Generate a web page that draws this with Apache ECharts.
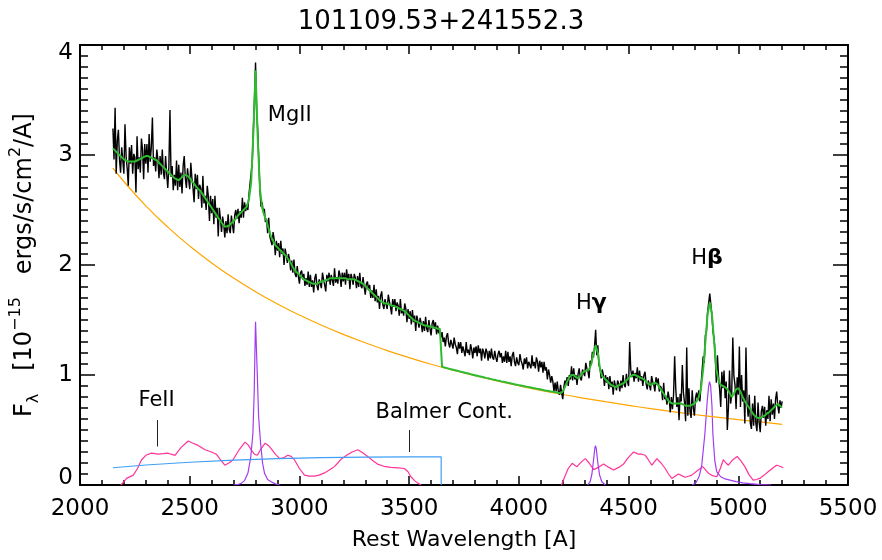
<!DOCTYPE html>
<html>
<head>
<meta charset="utf-8">
<script src="https://cdn.jsdelivr.net/npm/echarts@6/dist/echarts.min.js"></script>
<style>
  html, body { margin: 0; padding: 0; background: #fff; }
  #chart { width: 882px; height: 560px; }
</style>
</head>
<body>
<div id="chart"></div>
<script>
// Object name and axis ticks
const objectName = '101109.53+241552.3';
const xTicks = [2000, 2500, 3000, 3500, 4000, 4500, 5000, 5500];
const yTicks = [0, 1, 2, 3, 4];

// Observed spectrum: fluxes at 2150, 2155, ... 5200 A (one row per 50 A)
const specStart = 2150;
const specStep = 5;
const observedFlux = [
  3.24, 2.96, 3.43, 2.83, 3.13, 3.23, 2.96, 2.84, 3.07, 2.95,
  2.83, 3.28, 2.99, 2.88, 2.72, 3.07, 2.92, 3.09, 2.83, 3.01,
  2.98, 2.66, 3.17, 2.87, 2.98, 2.84, 3.15, 3.05, 2.78, 3.10,
  2.92, 3.10, 2.84, 3.19, 2.94, 3.07, 3.34, 2.90, 2.98, 2.85,
  3.05, 2.96, 2.79, 2.99, 2.82, 3.05, 2.84, 2.78, 2.99, 2.83,
  2.70, 2.89, 3.41, 2.80, 2.90, 2.68, 2.82, 2.72, 2.95, 2.68,
  2.91, 2.71, 2.84, 2.65, 2.90, 2.99, 2.79, 2.70, 2.88, 2.78,
  2.69, 2.93, 2.79, 2.70, 2.57, 2.83, 2.69, 2.82, 2.60, 2.73,
  2.70, 2.52, 2.81, 2.56, 2.63, 2.50, 2.72, 2.62, 2.40, 2.63,
  2.47, 2.60, 2.37, 2.63, 2.43, 2.52, 2.26, 2.52, 2.42, 2.30,
  2.44, 2.37, 2.25, 2.40, 2.29, 2.46, 2.32, 2.29, 2.45, 2.36,
  2.29, 2.45, 2.50, 2.42, 2.51, 2.38, 2.49, 2.43, 2.61, 2.43,
  2.57, 2.49, 2.55, 2.50, 2.64, 2.74, 2.74, 2.93, 3.23, 3.49,
  3.84, 3.41, 3.22, 2.94, 2.68, 2.53, 2.57, 2.48, 2.51, 2.39,
  2.42, 2.29, 2.43, 2.26, 2.27, 2.18, 2.30, 2.23, 2.09, 2.22,
  2.13, 2.20, 2.07, 2.22, 2.10, 2.15, 2.00, 2.15, 2.09, 2.02,
  2.10, 2.05, 1.95, 2.04, 1.93, 2.05, 1.92, 1.89, 1.99, 1.90,
  1.83, 1.93, 1.95, 1.87, 1.92, 1.81, 1.88, 1.82, 1.94, 1.80,
  1.91, 1.80, 1.86, 1.75, 1.88, 1.92, 1.81, 1.77, 1.87, 1.83,
  1.79, 1.93, 1.87, 1.82, 1.76, 1.91, 1.85, 1.93, 1.82, 1.91,
  1.90, 1.81, 1.97, 1.84, 1.89, 1.83, 1.95, 1.91, 1.80, 1.93,
  1.85, 1.93, 1.82, 1.96, 1.86, 1.92, 1.78, 1.92, 1.88, 1.82,
  1.92, 1.88, 1.79, 1.90, 1.80, 1.93, 1.81, 1.79, 1.89, 1.80,
  1.73, 1.83, 1.85, 1.77, 1.82, 1.70, 1.77, 1.70, 1.82, 1.67,
  1.78, 1.66, 1.72, 1.60, 1.72, 1.76, 1.64, 1.60, 1.69, 1.64,
  1.60, 1.73, 1.67, 1.62, 1.55, 1.69, 1.62, 1.69, 1.58, 1.66,
  1.63, 1.54, 1.69, 1.56, 1.60, 1.54, 1.65, 1.60, 1.48, 1.60,
  1.51, 1.58, 1.46, 1.59, 1.48, 1.54, 1.40, 1.54, 1.49, 1.43,
  1.52, 1.47, 1.39, 1.49, 1.40, 1.53, 1.42, 1.39, 1.50, 1.42,
  1.36, 1.47, 1.50, 1.42, 1.48, 1.37, 1.45, 1.38, 1.41, 1.34,
  1.39, 1.30, 1.34, 1.26, 1.35, 1.38, 1.29, 1.25, 1.32, 1.28,
  1.24, 1.34, 1.28, 1.25, 1.19, 1.30, 1.24, 1.30, 1.20, 1.26,
  1.25, 1.17, 1.30, 1.20, 1.23, 1.18, 1.28, 1.23, 1.15, 1.25,
  1.20, 1.26, 1.17, 1.27, 1.20, 1.24, 1.13, 1.24, 1.21, 1.15,
  1.24, 1.21, 1.13, 1.22, 1.15, 1.24, 1.16, 1.14, 1.22, 1.16,
  1.12, 1.19, 1.22, 1.16, 1.20, 1.11, 1.17, 1.12, 1.22, 1.11,
  1.21, 1.12, 1.17, 1.08, 1.18, 1.21, 1.12, 1.08, 1.16, 1.11,
  1.09, 1.19, 1.13, 1.10, 1.05, 1.15, 1.10, 1.16, 1.06, 1.12,
  1.13, 1.06, 1.18, 1.08, 1.12, 1.06, 1.16, 1.12, 1.03, 1.13,
  1.07, 1.12, 1.02, 1.12, 1.04, 1.07, 0.96, 1.05, 1.00, 0.93,
  0.99, 0.94, 0.85, 0.93, 0.85, 0.94, 0.85, 0.82, 0.91, 0.84,
  0.78, 0.89, 0.95, 0.91, 0.98, 0.90, 1.00, 0.96, 1.08, 0.95,
  1.06, 0.96, 1.00, 0.91, 1.01, 1.06, 0.97, 0.95, 1.05, 1.02,
  0.99, 1.11, 1.06, 1.03, 0.97, 1.13, 1.09, 1.21, 1.16, 1.26,
  1.41, 1.18, 1.27, 1.09, 1.06, 0.97, 1.05, 1.00, 0.90, 1.00,
  0.93, 0.98, 0.87, 0.99, 0.89, 0.94, 0.82, 0.95, 0.90, 0.86,
  0.95, 0.92, 0.85, 0.95, 0.88, 1.00, 0.91, 0.89, 1.01, 0.94,
  0.90, 1.30, 1.05, 0.98, 1.04, 0.94, 1.02, 0.97, 1.07, 0.94,
  1.04, 0.95, 0.99, 0.90, 1.00, 1.03, 0.92, 0.87, 0.95, 0.91,
  0.86, 0.99, 0.94, 0.91, 0.85, 0.98, 0.91, 0.97, 0.85, 0.90,
  0.88, 0.77, 0.93, 0.78, 0.81, 0.73, 0.85, 0.79, 0.66, 0.80,
  0.69, 0.82, 1.17, 0.88, 0.71, 0.80, 0.59, 0.83, 0.76, 1.09,
  0.84, 0.75, 0.58, 1.25, 0.63, 0.88, 0.67, 0.61, 0.86, 0.70,
  0.63, 0.79, 0.84, 0.77, 0.86, 0.76, 0.90, 0.91, 1.17, 1.11,
  1.36, 1.40, 1.57, 1.56, 1.74, 1.64, 1.54, 1.39, 1.33, 1.17,
  0.93, 1.18, 0.99, 0.87, 0.71, 1.03, 0.88, 1.04, 0.79, 0.94,
  0.50, 0.70, 1.04, 0.74, 0.82, 1.34, 0.99, 0.91, 0.69, 0.98,
  0.82, 1.26, 0.71, 1.00, 0.76, 0.86, 0.56, 1.25, 0.75, 0.62,
  0.82, 0.56, 0.51, 0.74, 0.54, 0.81, 0.56, 0.49, 0.75, 0.57,
  0.48, 0.67, 0.72, 0.61, 0.71, 0.54, 0.68, 0.60, 0.81, 0.58,
  0.78, 0.64, 0.74, 0.60, 0.78, 0.85, 0.72, 0.65, 0.77, 0.70,
  0.76
];

// Total model fit at 2150, 2160, ... 5200 A
const modelStart = 2150;
const modelStep = 10;
const modelFlux = [
  3.06, 3.04, 3.02, 3.00, 2.98, 2.96, 2.95, 2.94, 2.94, 2.94,
  2.94, 2.95, 2.96, 2.97, 2.98, 2.99, 2.99, 2.98, 2.97, 2.96,
  2.95, 2.93, 2.91, 2.89, 2.87, 2.85, 2.83, 2.81, 2.79, 2.78,
  2.77, 2.79, 2.81, 2.82, 2.81, 2.79, 2.76, 2.74, 2.71, 2.69,
  2.67, 2.64, 2.61, 2.58, 2.55, 2.52, 2.49, 2.46, 2.43, 2.40,
  2.37, 2.35, 2.35, 2.36, 2.38, 2.40, 2.42, 2.45, 2.47, 2.49,
  2.51, 2.53, 2.60, 2.75, 3.20, 3.77, 3.15, 2.70, 2.52, 2.45,
  2.40, 2.33, 2.26, 2.22, 2.18, 2.16, 2.14, 2.12, 2.10, 2.08,
  2.05, 2.02, 1.98, 1.95, 1.93, 1.91, 1.89, 1.87, 1.86, 1.85,
  1.84, 1.83, 1.83, 1.83, 1.84, 1.85, 1.85, 1.86, 1.87, 1.88,
  1.88, 1.88, 1.88, 1.88, 1.88, 1.88, 1.88, 1.87, 1.87, 1.87,
  1.87, 1.86, 1.85, 1.84, 1.83, 1.81, 1.79, 1.77, 1.75, 1.73,
  1.71, 1.69, 1.67, 1.66, 1.65, 1.65, 1.64, 1.63, 1.63, 1.62,
  1.61, 1.60, 1.59, 1.58, 1.56, 1.54, 1.52, 1.50, 1.49, 1.48,
  1.47, 1.46, 1.45, 1.45, 1.44, 1.44, 1.43, 1.43, 1.42, 1.42,
  1.075, 1.069, 1.063, 1.058, 1.053, 1.048, 1.043, 1.038, 1.033, 1.028,
  1.023, 1.018, 1.013, 1.008, 1.003, 0.998, 0.993, 0.988, 0.984, 0.979,
  0.974, 0.970, 0.965, 0.960, 0.956, 0.951, 0.947, 0.942, 0.938, 0.934,
  0.929, 0.925, 0.921, 0.916, 0.912, 0.908, 0.904, 0.900, 0.896, 0.892,
  0.888, 0.884, 0.880, 0.876, 0.872, 0.868, 0.864, 0.860, 0.857, 0.853,
  0.849, 0.846, 0.842, 0.838, 0.835, 0.85, 0.89, 0.94, 0.98, 1.00,
  1.00, 0.98, 0.97, 0.99, 1.02, 1.035, 1.04, 1.05, 1.10, 1.20,
  1.27, 1.20, 1.05, 0.99, 0.97, 0.95, 0.93, 0.91, 0.90, 0.89,
  0.90, 0.91, 0.92, 0.93, 0.95, 0.97, 0.99, 1.00, 1.00, 0.99,
  0.98, 0.97, 0.96, 0.94, 0.92, 0.91, 0.92, 0.93, 0.92, 0.89,
  0.86, 0.83, 0.80, 0.77, 0.75, 0.74, 0.74, 0.74, 0.74, 0.74,
  0.73, 0.72, 0.72, 0.72, 0.73, 0.74, 0.76, 0.80, 0.88, 1.05,
  1.30, 1.55, 1.66, 1.55, 1.30, 1.05, 0.95, 0.91, 0.90, 0.89,
  0.87, 0.84, 0.80, 0.83, 0.87, 0.88, 0.85, 0.80, 0.76, 0.73,
  0.70, 0.67, 0.64, 0.62, 0.61, 0.61, 0.62, 0.63, 0.65, 0.66,
  0.68, 0.70, 0.72, 0.735, 0.72, 0.705
];

// Power-law continuum [wavelength, flux]
const continuum = [
  [2150, 2.880], [2200, 2.759], [2300, 2.538], [2400, 2.344], [2500, 2.172],
  [2600, 2.019], [2700, 1.881], [2800, 1.757], [2900, 1.646], [3000, 1.545],
  [3100, 1.453], [3200, 1.369], [3300, 1.293], [3400, 1.222], [3500, 1.158],
  [3600, 1.098], [3700, 1.043], [3800, 0.993], [3900, 0.946], [4000, 0.902],
  [4100, 0.861], [4200, 0.823], [4300, 0.788], [4400, 0.755], [4500, 0.724],
  [4600, 0.694], [4700, 0.667], [4800, 0.641], [4900, 0.617], [5000, 0.594],
  [5100, 0.573], [5200, 0.552]
];

// Balmer continuum [wavelength, flux]
const balmerCont = [
  [2150, 0.157], [2300, 0.182], [2500, 0.207], [2700, 0.226], [2900, 0.240],
  [3100, 0.249], [3300, 0.254], [3500, 0.256], [3646, 0.257], [3646, 0.0]
];

// FeII template, UV and optical parts [wavelength, flux]
const feUV = [
  [2186, 0.0], [2200, 0.03], [2212, 0.06], [2243, 0.09], [2262, 0.15], [2280, 0.227],
  [2300, 0.27], [2326, 0.29], [2355, 0.28], [2380, 0.285], [2400, 0.29], [2415, 0.28],
  [2433, 0.27], [2460, 0.34], [2493, 0.40], [2515, 0.38], [2538, 0.36], [2570, 0.32],
  [2599, 0.30], [2621, 0.28], [2640, 0.23], [2660, 0.18], [2678, 0.20], [2697, 0.227],
  [2725, 0.32], [2752, 0.39], [2768, 0.36], [2780, 0.32], [2795, 0.28], [2808, 0.27],
  [2825, 0.33], [2844, 0.38], [2858, 0.36], [2871, 0.33], [2890, 0.28], [2910, 0.24],
  [2930, 0.25], [2947, 0.27], [2962, 0.26], [2977, 0.23], [3000, 0.15], [3023, 0.09],
  [3045, 0.08], [3068, 0.08], [3090, 0.09], [3114, 0.11], [3140, 0.14], [3159, 0.167],
  [3175, 0.20], [3190, 0.235], [3215, 0.27], [3240, 0.30], [3266, 0.32], [3290, 0.29],
  [3311, 0.26], [3335, 0.22], [3356, 0.19], [3385, 0.17], [3417, 0.16], [3450, 0.155],
  [3478, 0.15], [3495, 0.12], [3508, 0.075], [3525, 0.04], [3541, 0.015], [3555, 0.0]
];
const feOpt = [
  [4194, 0.0], [4210, 0.08], [4225, 0.15], [4243, 0.197], [4255, 0.18], [4265, 0.167],
  [4285, 0.21], [4303, 0.24], [4320, 0.20], [4341, 0.14], [4362, 0.16], [4386, 0.19],
  [4410, 0.16], [4432, 0.136], [4455, 0.16], [4477, 0.19], [4495, 0.24], [4508, 0.27],
  [4523, 0.30], [4535, 0.29], [4545, 0.28], [4560, 0.28], [4576, 0.27], [4590, 0.23],
  [4606, 0.18], [4618, 0.21], [4629, 0.24], [4648, 0.20], [4667, 0.15], [4682, 0.10],
  [4697, 0.06], [4712, 0.08], [4727, 0.10], [4742, 0.085], [4758, 0.07], [4773, 0.08],
  [4788, 0.09], [4813, 0.13], [4838, 0.167], [4850, 0.14], [4864, 0.106], [4883, 0.085],
  [4902, 0.075], [4918, 0.15], [4932, 0.23], [4944, 0.20], [4955, 0.18], [4975, 0.23],
  [4995, 0.26], [5012, 0.22], [5030, 0.167], [5050, 0.09], [5068, 0.045], [5083, 0.05],
  [5098, 0.06], [5118, 0.09], [5136, 0.12], [5155, 0.15], [5174, 0.18], [5190, 0.17],
  [5205, 0.157]
];

// Broad emission line components [wavelength, flux]
const lineMgII = [
  [2700, 0.0], [2720, 0.005], [2735, 0.015], [2750, 0.04], [2765, 0.106], [2778, 0.25],
  [2788, 0.47], [2794, 0.85], [2798, 1.3], [2800, 1.485], [2803, 1.3], [2808, 1.0],
  [2814, 0.62], [2823, 0.38], [2832, 0.20], [2841, 0.106], [2855, 0.05], [2871, 0.03],
  [2890, 0.01], [2910, 0.0]
];
const lineHg = [
  [4313, 0.0], [4325, 0.03], [4333, 0.10], [4340, 0.22], [4346, 0.33], [4349, 0.357],
  [4353, 0.33], [4360, 0.20], [4368, 0.09], [4378, 0.03], [4394, 0.0]
];
const lineHb = [
  [4790, 0.0], [4807, 0.02], [4822, 0.08], [4833, 0.17], [4848, 0.47], [4858, 0.75],
  [4865, 0.90], [4869, 0.94], [4874, 0.90], [4880, 0.72], [4884, 0.47], [4893, 0.22],
  [4902, 0.12], [4920, 0.075], [4940, 0.055], [4962, 0.045], [4990, 0.03], [5020, 0.02],
  [5053, 0.012], [5100, 0.004], [5150, 0.0]
];

// Component labels [wavelength, flux, text]
const labels = [
  [2956, 3.36, 'MgII'],
  [4330, 1.65, 'H{g|γ}'],
  [4857, 2.06, 'H{g|β}'],
  [2349, 0.77, 'FeII'],
  [3660, 0.66, 'Balmer Cont.']
];
// Pointer marks under the FeII and Balmer labels [wavelength, top, bottom]
const pointers = [
  [2352, 0.59, 0.35],
  [3500, 0.50, 0.30]
];

const FONT = 'DejaVu Sans';
const BLACK = '#000';

const specData = observedFlux.map((f, i) => [specStart + i * specStep, f]);
const modelData = modelFlux.map((f, i) => [modelStart + i * modelStep, f]);

function lineSeries(data, color, width, z) {
  return {
    type: 'line', data: data, showSymbol: false, symbol: 'none',
    lineStyle: { color: color, width: width }, z: z, silent: true, animation: false
  };
}

const axisCommon = {
  type: 'value',
  axisLine: { show: true, onZero: false, lineStyle: { color: BLACK, width: 2 } },
  splitLine: { show: false },
  minorSplitLine: { show: false }
};

const chart = echarts.init(document.getElementById('chart'), null, { renderer: 'canvas' });

chart.setOption({
  backgroundColor: '#fff',
  animation: false,
  title: {
    text: objectName, left: 'center', top: 4,
    textStyle: { fontFamily: FONT, fontSize: 26, fontWeight: 'normal', color: BLACK }
  },
  grid: { left: 78, right: 34, top: 45, bottom: 75 },
  xAxis: [
    Object.assign({}, axisCommon, {
      position: 'bottom', min: xTicks[0], max: xTicks[xTicks.length - 1], interval: 500,
      axisTick: { inside: true, length: 9, lineStyle: { color: BLACK, width: 1.5 } },
      minorTick: { show: true, splitNumber: 5, length: 5, lineStyle: { color: BLACK, width: 1.5 } },
      axisLabel: {
        fontFamily: FONT, fontSize: 23, color: BLACK, margin: 13,
        formatter: v => String(v)
      },
      name: 'Rest Wavelength [A]', nameLocation: 'middle', nameGap: 44,
      nameTextStyle: { fontFamily: FONT, fontSize: 22, color: BLACK }
    }),
    Object.assign({}, axisCommon, {
      position: 'top', min: xTicks[0], max: xTicks[xTicks.length - 1], interval: 500,
      axisTick: { inside: true, length: 9, lineStyle: { color: BLACK, width: 1.5 } },
      minorTick: { show: true, splitNumber: 5, length: 5, lineStyle: { color: BLACK, width: 1.5 } },
      axisLabel: { show: false }
    })
  ],
  yAxis: [
    Object.assign({}, axisCommon, {
      position: 'left', min: yTicks[0], max: yTicks[yTicks.length - 1], interval: 1,
      axisTick: { inside: true, length: 15, lineStyle: { color: BLACK, width: 1.5 } },
      minorTick: { show: true, splitNumber: 10, length: 8, lineStyle: { color: BLACK, width: 1.5 } },
      axisLabel: {
        fontFamily: FONT, fontSize: 23, color: BLACK, margin: 7,
        formatter: function (v) {
          if (v === yTicks[0]) return '{lo|' + v + '}';
          if (v === yTicks[yTicks.length - 1]) return '{hi|' + v + '}';
          return String(v);
        },
        rich: {
          lo: { fontFamily: FONT, fontSize: 23, color: BLACK, padding: [0, 0, 14, 0] },
          hi: { fontFamily: FONT, fontSize: 23, color: BLACK, padding: [16, 0, 0, 0] }
        }
      },
      name: '{b|F}{sub|λ}{b|   [10}{sup|−15}{b|   ergs/s/cm}{sup|2}{b|/A]}',
      nameLocation: 'middle', nameRotate: 90, nameGap: 38,
      nameTextStyle: {
        fontFamily: FONT, fontSize: 24, color: BLACK,
        rich: {
          b: { fontFamily: FONT, fontSize: 24, color: BLACK, lineHeight: 34 },
          sub: { fontFamily: FONT, fontSize: 16, color: BLACK, verticalAlign: 'bottom', lineHeight: 34 },
          sup: { fontFamily: FONT, fontSize: 16, color: BLACK, verticalAlign: 'top', lineHeight: 34 }
        }
      }
    }),
    Object.assign({}, axisCommon, {
      position: 'right', min: yTicks[0], max: yTicks[yTicks.length - 1], interval: 1,
      axisTick: { inside: true, length: 15, lineStyle: { color: BLACK, width: 1.5 } },
      minorTick: { show: true, splitNumber: 10, length: 8, lineStyle: { color: BLACK, width: 1.5 } },
      axisLabel: { show: false }
    })
  ],
  series: [
    lineSeries(feUV, '#ff3399', 1.2, 2),
    lineSeries(feOpt, '#ff3399', 1.2, 2),
    lineSeries(lineMgII, '#a23cf0', 1.2, 3),
    lineSeries(lineHg, '#a23cf0', 1.2, 3),
    lineSeries(lineHb, '#a23cf0', 1.2, 3),
    lineSeries(balmerCont, '#3f9ff5', 1.2, 3),
    Object.assign(lineSeries(continuum, '#ffa500', 1.2, 4), { smooth: true }),
    lineSeries(specData, BLACK, 1.4, 5),
    lineSeries(modelData, '#2fbb2f', 2, 6),
    {
      type: 'scatter', symbolSize: 0, z: 7, silent: true, animation: false,
      itemStyle: { opacity: 1 },
      data: labels.map(l => ({ value: [l[0], l[1]], name: l[2] })),
      label: {
        show: true, position: 'inside', formatter: p => p.name,
        fontFamily: FONT, fontSize: 21, color: BLACK, opacity: 1,
        textBorderWidth: 0,
        rich: { g: { fontFamily: FONT, fontSize: 22, fontWeight: 'bold', color: BLACK } }
      },
      markLine: {
        silent: true, symbol: ['none', 'none'], animation: false,
        label: { show: false },
        lineStyle: { color: '#222', width: 1, type: 'solid' },
        data: pointers.map(p => [{ coord: [p[0], p[1]] }, { coord: [p[0], p[2]] }])
      }
    }
  ]
});
</script>
</body>
</html>
